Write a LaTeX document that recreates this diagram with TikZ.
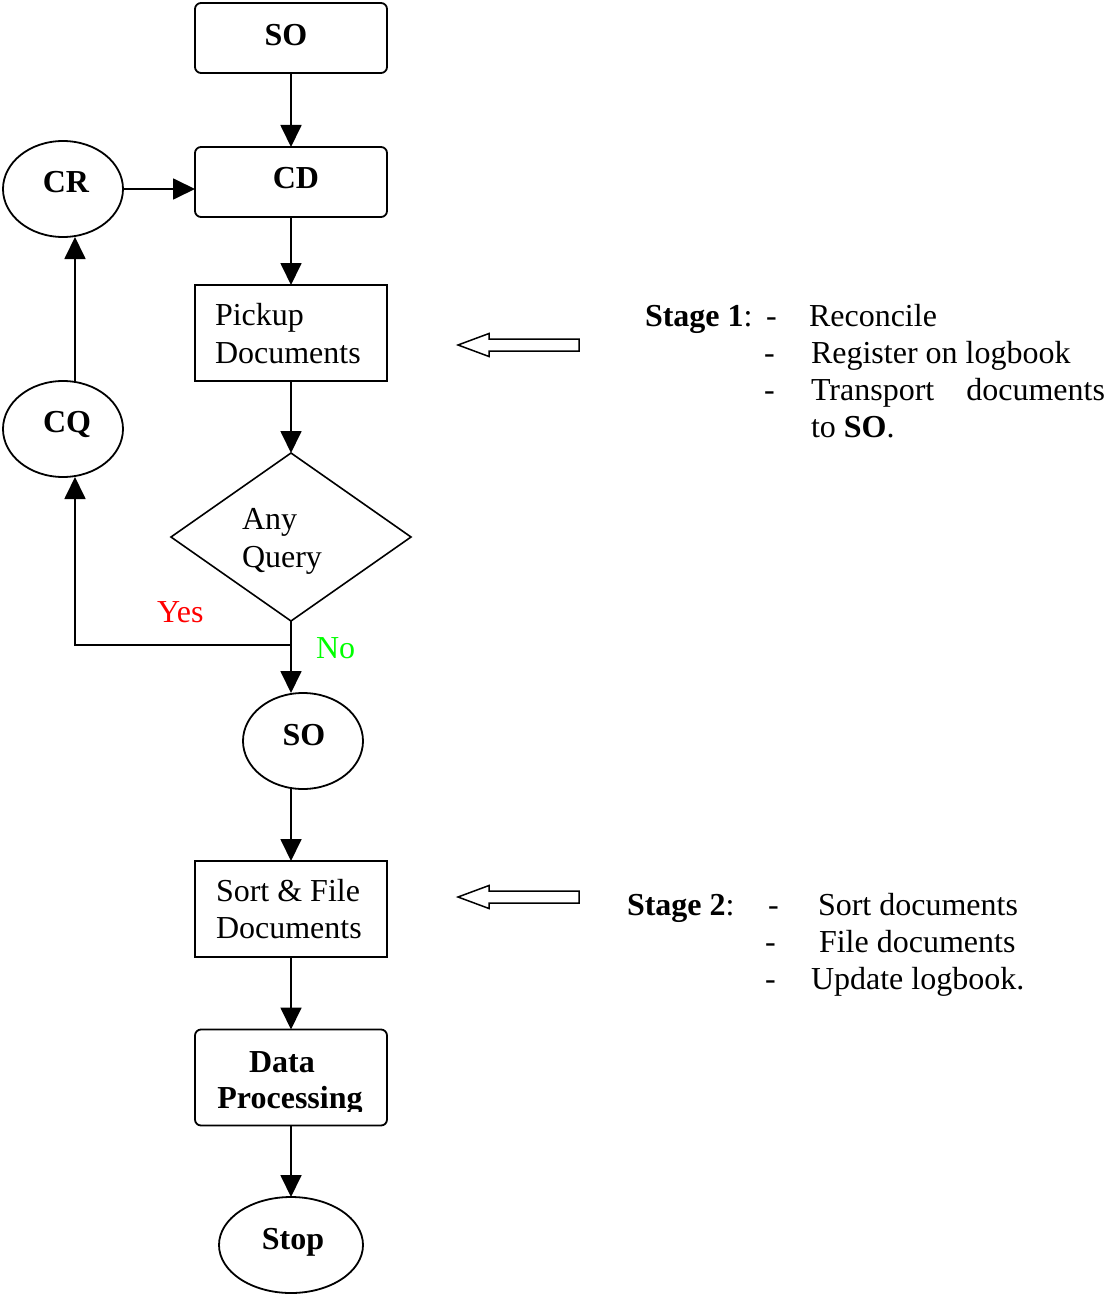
\documentclass[tikz,border=0pt]{standalone}
\usepackage{fontspec}
\setmainfont{Liberation Serif}
\usetikzlibrary{shapes.geometric,arrows.meta}
\definecolor{yesred}{RGB}{255,0,0}
\definecolor{nogreen}{RGB}{0,255,0}
\begin{document}
\begin{tikzpicture}[x=1pt,y=-1pt,
  every node/.style={font=\fontsize{32}{37}\selectfont, inner sep=0pt, outer sep=0pt},
  boxr/.style={draw, line width=1.8pt, rounded corners=6pt, minimum width=192pt, minimum height=70pt},
  boxs/.style={draw, line width=1.8pt, minimum width=192pt, minimum height=96pt},
  oval/.style={draw, ellipse, line width=1.8pt, minimum width=120pt, minimum height=96pt},
  txt/.style={anchor=base west},
  ctxt/.style={anchor=base, font=\fontsize{32}{37}\selectfont\bfseries},
  conn/.style={line width=1.8pt, -{Triangle[length=22pt,width=21pt]}},
  blockarrow/.style={draw, line width=1.5pt, line join=miter}
]
\useasboundingbox (0,0) rectangle (1107,1297);

% shapes
\node[boxr] (SO) at (291,38) {};
\node[boxr] (CD) at (291,182) {};
\node[oval] (CR) at (63,189) {};
\node[boxs] (PD) at (291,333) {};
\node[oval] (CQ) at (63,429) {};
\node[draw, diamond, line width=1.6pt, minimum width=240pt, minimum height=168pt] (Q) at (291,537) {};
\node[oval] (SO2) at (303,741) {};
\node[boxs] (SF) at (291,909) {};
\node[boxr, minimum height=96pt] (DP) at (291,1077.5) {};
\node[oval, minimum width=144pt] (ST) at (291,1245) {};

% texts
\node[ctxt] (tSO) at (286,46) {SO};
\node[ctxt] (tCD) at (296,189) {CD};
\node[ctxt] (tCR) at (66,193) {CR};
\node[ctxt] (tCQ) at (67,432) {CQ};
\node[txt] (tPD1) at (215,325) {Pickup};
\node[txt] (tPD2) at (215,363) {Documents};
\node[txt] (tQ1) at (242,529) {Any};
\node[txt] (tQ2) at (242,567) {Query};
\node[txt, text=yesred] (tYes) at (157,622) {Yes};
\node[txt, text=nogreen] (tNo) at (316,658) {No};
\node[ctxt] (tSO2) at (304,745) {SO};
\node[txt] (tSF1) at (216,901) {Sort \& File};
\node[txt] (tSF2) at (216,938) {Documents};
\node[ctxt] (tDP1) at (282,1072) {Data};
\begin{scope}
\clip (200,1075) rectangle (385,1111);
\node[ctxt] (tDP2) at (290,1108) {Processing};
\end{scope}
\node[ctxt] (tST) at (293,1249) {Stop};

% connectors
\coordinate (jn) at (291,645);
\coordinate (yl) at (75,645);
\draw[conn] (SO.south) -- (CD.north);
\draw[conn] (CR.east) -- (CR.east -| CD.west);
\draw[conn] (CD.south) -- (PD.north);
\draw[conn] (PD.south) -- (Q.north);
\draw[conn] (yl |- CQ.north) -- (yl |- CR.south);
\draw[conn] (Q.south) -- (Q.south |- SO2.north);
\draw[conn] (jn) -| (yl |- CQ.south);
\draw[conn] (SO2.south -| SF.north) -- (SF.north);
\draw[conn] (SF.south) -- (DP.north);
\draw[conn] (DP.south) -- (ST.north);

% block arrows
\draw[blockarrow] (458,345) -- (489,333.5) -- (489,339) -- (579,339) -- (579,351) -- (489,351) -- (489,356.5) -- cycle;
\draw[blockarrow] (458,897) -- (489,885.5) -- (489,891) -- (579,891) -- (579,903) -- (489,903) -- (489,908.5) -- cycle;

% Stage 1
\node[txt] (s1h) at (645,326) {\textbf{Stage 1}:};
\node[txt] (s1d1) at (766,326) {-};
\node[txt] (s1d2) at (764,363) {-};
\node[txt] (s1d3) at (764,400) {-};
\node[txt] (s1a) at (809,326) {Reconcile};
\node[txt] (s1b) at (811,363) {Register on logbook};
\node[txt] (s1c) at (811,400) {Transport};
\node[anchor=base east] (s1c2) at (1105,400) {documents};
\node[txt] (s1e) at (811,437) {to \textbf{SO}.};

% Stage 2
\node[txt] (s2h) at (627,915) {\textbf{Stage 2}:};
\node[txt] (s2d1) at (768,915) {-};
\node[txt] (s2d2) at (765,952) {-};
\node[txt] (s2d3) at (765,989) {-};
\node[txt] (s2a) at (818,915) {Sort documents};
\node[txt] (s2b) at (819,952) {File documents};
\node[txt] (s2c) at (811,989) {Update logbook.};
\end{tikzpicture}
\end{document}
